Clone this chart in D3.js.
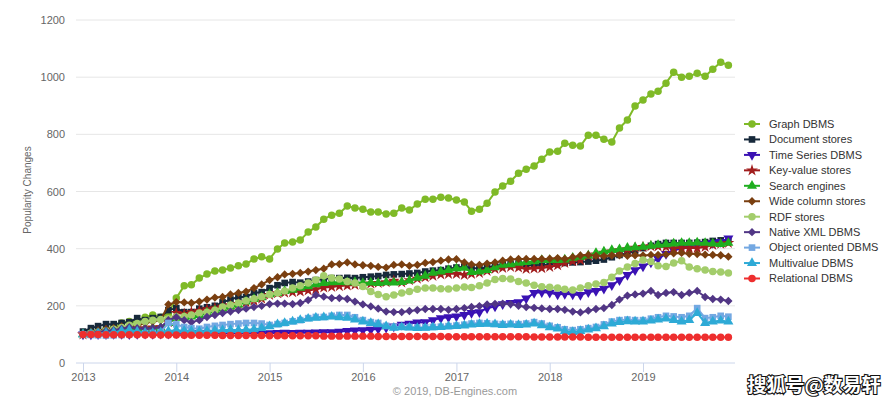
<!DOCTYPE html>
<html><head><meta charset="utf-8">
<script src="https://cdn.jsdelivr.net/npm/d3@7/dist/d3.min.js"></script>
<style>body{margin:0;background:#fff}</style></head>
<body><svg id="c" width="887" height="405"></svg>
<script>
// ---------- DATA ----------
const months = d3.timeMonth.range(new Date(2013,0,1), new Date(2020,0,1)); // Jan 2013 .. Dec 2019
const yearTicks = [2013,2014,2015,2016,2017,2018,2019];
const valueTicks = [0,200,400,600,800,1000,1200];
const seriesNames = ["Graph DBMS","Document stores","Time Series DBMS","Key-value stores","Search engines","Wide column stores","RDF stores","Native XML DBMS","Object oriented DBMS","Multivalue DBMS","Relational DBMS"];

const graphDBMS = [
 100,106,112,118,125,140,145,142,160,168,160,172,
 227,270,274,297,311,322,325,332,340,346,364,372,
 364,399,420,423,430,458,476,503,517,524,549,542,
 538,528,528,521,524,542,535,556,573,573,580,577,
 570,563,531,538,559,598,619,636,664,678,689,713,
 738,741,769,762,759,797,797,783,773,822,850,899,
 920,941,951,979,1017,1000,1003,1014,1003,1028,1052,1042];
const documentStores = [
 110,122,129,136,136,140,143,157,150,157,161,185,
 192,178,178,190,195,200,212,222,231,231,245,248,
 262,272,280,283,281,285,290,294,297,297,298,297,
 300,302,304,308,310,311,313,315,320,323,325,330,
 334,337,332,331,334,340,344,345,348,343,343,344,
 345,350,350,352,353,355,358,362,370,378,384,392,
 402,410,416,420,420,420,420,421,423,427,429,432];
const timeSeriesDBMS = [
 100,100,101,101,102,102,101,102,103,102,103,103,
 104,103,104,104,105,104,105,104,105,105,104,105,
 104,105,106,105,106,106,107,108,108,110,112,114,
 115,117,119,124,128,134,138,142,143,150,157,160,
 163,168,175,178,192,198,206,210,213,226,245,248,
 246,240,242,240,238,248,252,260,272,290,308,325,
 338,352,365,382,395,400,408,413,416,420,424,436];
const keyValueStores = [
 100,104,108,112,115,118,120,118,122,124,125,143,
 175,172,178,183,188,192,197,202,207,212,218,225,
 238,244,246,248,250,254,258,264,266,269,271,273,
 276,278,280,283,288,282,290,295,300,305,310,312,
 312,308,312,315,322,329,333,336,334,329,331,332,
 336,342,350,356,360,375,380,386,390,395,398,403,
 406,409,408,406,402,402,402,402,406,413,417,420];
const searchEngines = [
 100,103,106,110,112,115,117,118,120,122,124,140,
 158,160,162,168,176,183,190,197,204,215,224,230,
 240,245,252,256,263,268,275,280,282,283,282,283,
 280,281,280,282,281,283,288,298,305,315,320,325,
 330,333,318,320,325,335,343,345,350,353,356,360,
 360,360,362,368,371,376,385,390,395,398,403,405,
 406,410,413,415,418,420,420,421,420,418,416,420];
const wideColumnStores = [
 100,108,112,118,122,128,125,130,140,145,150,205,
 213,212,210,215,222,229,231,240,245,250,262,275,
 290,300,310,312,315,320,325,330,345,346,352,345,
 342,340,336,334,343,345,340,343,350,353,358,362,
 363,352,345,343,348,352,358,362,364,364,364,364,
 365,367,364,370,376,378,375,374,376,377,375,377,
 376,378,378,380,384,385,382,381,379,378,377,372];
const rdfStores = [
 100,104,108,112,118,124,132,138,145,150,152,155,
 162,163,168,175,178,185,196,203,210,218,225,232,
 240,245,252,262,270,280,290,305,297,294,285,280,
 268,250,240,232,238,245,250,258,262,262,260,259,
 262,266,264,270,280,292,296,294,285,280,272,267,
 265,262,258,255,262,270,276,282,300,322,336,348,
 360,355,340,338,350,358,336,330,325,320,318,315];
const nativeXML = [
 100,104,108,112,115,120,125,122,120,122,125,150,
 160,150,143,150,161,168,175,180,185,190,196,200,
 206,208,208,206,210,220,238,232,227,227,224,215,
 205,198,190,180,178,178,182,185,189,189,189,186,
 189,192,196,199,205,207,208,206,200,196,193,191,
 189,189,186,180,177,183,189,192,203,222,236,240,
 243,252,238,245,248,238,245,252,231,224,222,217];
const objectOriented = [
 100,98,97,96,97,98,100,102,104,105,108,140,
 135,126,122,120,126,130,133,136,138,140,140,138,
 133,136,140,146,150,157,161,161,165,168,168,160,
 150,143,140,130,126,127,126,124,125,126,127,129,
 131,134,138,140,139,137,136,137,136,138,143,138,
 130,125,118,115,118,122,126,135,145,150,152,150,
 150,155,160,165,163,160,165,192,157,160,165,162];
const multivalue = [
 100,102,104,105,107,112,115,110,106,105,107,112,
 115,113,112,110,112,114,115,116,115,116,118,122,
 128,135,140,145,150,155,158,160,162,160,158,152,
 145,140,135,128,123,125,124,122,123,125,126,128,
 129,131,134,136,137,135,133,134,133,134,138,132,
 125,120,112,108,112,117,121,128,138,143,146,145,
 145,148,152,155,150,145,150,175,140,145,148,145];
const relational = [
 100,100,100,99,99,99,99,99,98,98,98,98,
 98,97,97,97,97,97,96,96,96,96,96,96,
 95,95,95,95,95,95,95,94,94,94,94,94,
 94,94,93,93,93,93,93,93,93,93,93,92,
 92,92,92,92,92,92,92,92,92,92,91,91,
 91,91,91,91,91,90,90,90,90,90,90,90,
 90,90,90,90,90,90,90,90,90,90,90,90];

const seriesValues = [graphDBMS,documentStores,timeSeriesDBMS,keyValueStores,searchEngines,wideColumnStores,rdfStores,nativeXML,objectOriented,multivalue,relational];

// ---------- STYLE ----------
const colors = ["#7fba27","#17293b","#3a12b4","#a11d1d","#1fae1f","#7a3f10","#a3cd6b","#513685","#74a8e2","#2eaad6","#ee2e2e"];
const symbols = ["circle","square","tridown","star","triangle","diamond","circle","diamond","square","triangle","circle"];

const svg = d3.select("#c");
const L = 76, R = 735, T = 20, B = 363;
const x = d3.scaleTime().domain([new Date(2013,0,1), new Date(2019,0,1)]).range([83,643]);
const y = d3.scaleLinear().domain([0,1200]).range([B,T]);
const font = "'Liberation Sans', Arial, sans-serif";

// gridlines
svg.append("g").selectAll("line").data(valueTicks.filter(v=>v>0)).join("line")
  .attr("x1",L).attr("x2",R).attr("y1",d=>y(d)).attr("y2",d=>y(d))
  .attr("stroke","#e6e6e6").attr("stroke-width",1);

// y labels
svg.append("g").selectAll("text").data(valueTicks).join("text")
  .attr("x",65).attr("y",d=>y(d)+4).attr("text-anchor","end")
  .attr("font-family",font).attr("font-size",11).attr("fill","#666").text(d=>d);

// y title
svg.append("text").attr("transform","translate(31,190) rotate(-90)").attr("text-anchor","middle")
  .attr("font-family",font).attr("font-size",10).attr("fill","#666").text("Popularity Changes");

// x axis
const xAxis = d3.axisBottom(x).tickValues(yearTicks.map(yr=>new Date(yr,0,1))).tickFormat(d3.timeFormat("%Y")).tickSize(9).tickSizeOuter(0);
const gx = svg.append("g").attr("transform",`translate(0,${B})`).call(xAxis);
gx.select(".domain").remove();
gx.append("line").attr("x1",L).attr("x2",R).attr("stroke","#ccd6eb");
gx.selectAll(".tick line").attr("stroke","#ccd6eb");
gx.selectAll(".tick text").attr("font-family",font).attr("font-size",11).attr("fill","#666").attr("dy","0.9em").attr("y",8);

// symbol helper
function symPath(type){
  const s = 44;
  if(type==="circle") return d3.symbol(d3.symbolCircle, s)();
  if(type==="square") return d3.symbol(d3.symbolSquare, s)();
  if(type==="triangle") return d3.symbol(d3.symbolTriangle, s)();
  if(type==="tridown") return d3.symbol(d3.symbolTriangle, s)();
  if(type==="star") return d3.symbol(d3.symbolStar, s)();
  if(type==="diamond") return d3.symbol(d3.symbolDiamond2 || d3.symbolDiamond, s)();
}
function rot(type){ return type==="tridown" ? " rotate(180)" : ""; }

// series
const line = d3.line().x((d,i)=>x(months[i])).y(d=>y(d));
seriesValues.forEach((vals,k)=>{
  const g = svg.append("g");
  g.append("path").attr("d",line(vals)).attr("fill","none").attr("stroke",colors[k]).attr("stroke-width",2).attr("stroke-linejoin","round");
  g.selectAll("path.m").data(vals).join("path").attr("class","m")
    .attr("d",symPath(symbols[k]))
    .attr("transform",(d,i)=>`translate(${x(months[i])},${y(d)})${rot(symbols[k])}`)
    .attr("fill",colors[k]);
});

// legend
const lg = svg.append("g");
seriesNames.forEach((n,k)=>{
  const cy = 124 + k*15.45;
  lg.append("line").attr("x1",744).attr("x2",760).attr("y1",cy).attr("y2",cy).attr("stroke",colors[k]).attr("stroke-width",2);
  lg.append("path").attr("d",symPath(symbols[k])).attr("transform",`translate(752,${cy})${rot(symbols[k])}`).attr("fill",colors[k]);
  lg.append("text").attr("x",769).attr("y",cy+3.8).attr("font-family",font).attr("font-size",11).attr("fill","#333").text(n);
});

// credit
svg.append("text").attr("x",455).attr("y",395).attr("text-anchor","middle")
  .attr("font-family",font).attr("font-size",11).attr("fill","#999").text("© 2019, DB-Engines.com");

// watermark
svg.append("text").attr("x",814).attr("y",392).attr("text-anchor","middle")
  .attr("font-family","'Noto Sans CJK SC', sans-serif").attr("font-weight","bold").attr("font-size",19)
  .attr("fill","#fff").attr("stroke","#111").attr("stroke-width",2.2).attr("paint-order","stroke")
  .text("搜狐号@数易轩");
</script>
</body></html>
